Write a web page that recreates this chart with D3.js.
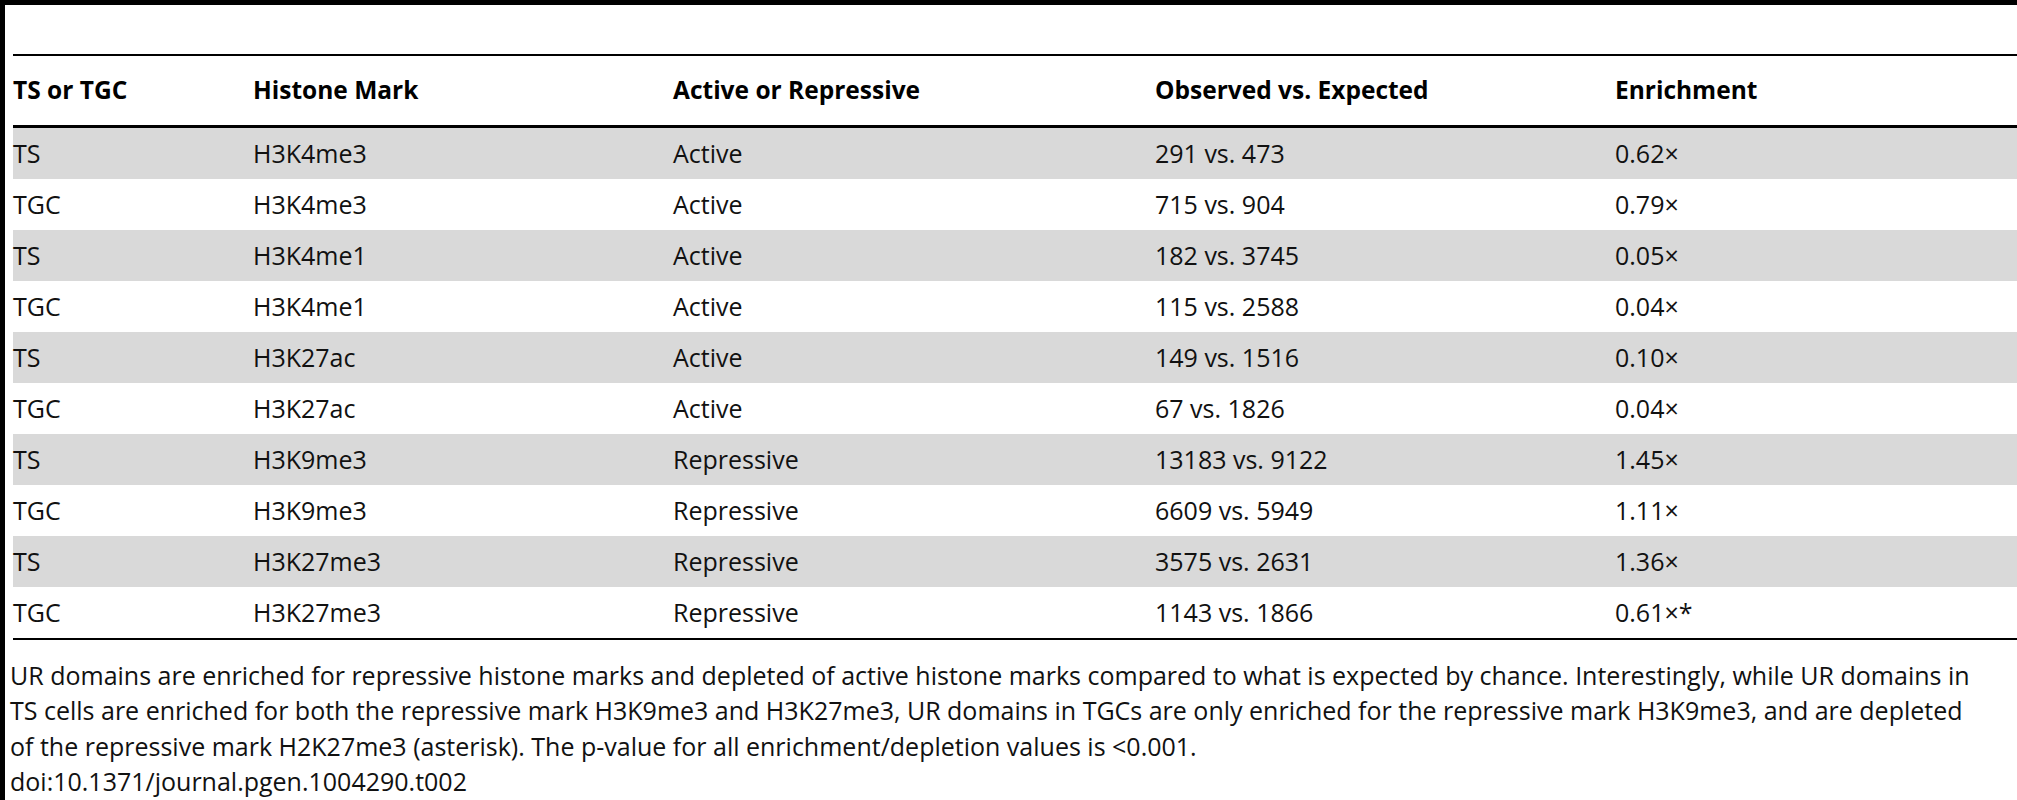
<!DOCTYPE html>
<html><head><meta charset="utf-8">
<script src="https://cdn.jsdelivr.net/npm/d3@7"></script>
<style>body{margin:0;background:#fff}svg{display:block}</style>
</head><body>
<svg id="c" width="2017" height="800"></svg>
<script>
const headers = ["TS or TGC", "Histone Mark", "Active or Repressive", "Observed vs. Expected", "Enrichment"];
const cellType = ["TS", "TGC", "TS", "TGC", "TS", "TGC", "TS", "TGC", "TS", "TGC"];
const marks = ["H3K4me3", "H3K4me3", "H3K4me1", "H3K4me1", "H3K27ac", "H3K27ac", "H3K9me3", "H3K9me3", "H3K27me3", "H3K27me3"];
const activity = ["Active", "Active", "Active", "Active", "Active", "Active", "Repressive", "Repressive", "Repressive", "Repressive"];
const observed = ["291 vs. 473", "715 vs. 904", "182 vs. 3745", "115 vs. 2588", "149 vs. 1516", "67 vs. 1826", "13183 vs. 9122", "6609 vs. 5949", "3575 vs. 2631", "1143 vs. 1866"];
const enrichment = ["0.62\u00d7", "0.79\u00d7", "0.05\u00d7", "0.04\u00d7", "0.10\u00d7", "0.04\u00d7", "1.45\u00d7", "1.11\u00d7", "1.36\u00d7", "0.61\u00d7*"];
const footnote = [
  "UR domains are enriched for repressive histone marks and depleted of active histone marks compared to what is expected by chance. Interestingly, while UR domains in",
  "TS cells are enriched for both the repressive mark H3K9me3 and H3K27me3, UR domains in TGCs are only enriched for the repressive mark H3K9me3, and are depleted",
  "of the repressive mark H2K27me3 (asterisk). The p-value for all enrichment/depletion values is \u003c0.001.",
  "doi:10.1371/journal.pgen.1004290.t002"
];

const svg = d3.select("#c");
const font = "'Open Sans', 'Noto Sans', sans-serif";
const colX = [13, 253, 673, 1155, 1615];
const rows = d3.range(cellType.length);
const y = d3.scaleBand().domain(rows).range([128, 638]);

// frame
svg.append("rect").attr("x", 0).attr("y", 0).attr("width", 5).attr("height", 800).attr("fill", "#000");
svg.append("rect").attr("x", 0).attr("y", 0).attr("width", 2017).attr("height", 5).attr("fill", "#000");
svg.append("rect").attr("x", 13).attr("y", 54).attr("width", 2004).attr("height", 2).attr("fill", "#000");

// header
svg.selectAll("text.h").data(headers).join("text")
  .attr("x", (d, i) => colX[i]).attr("y", 99)
  .attr("font-family", font).attr("font-size", 24.5).attr("font-weight", "bold")
  .text(d => d);
svg.append("rect").attr("x", 13).attr("y", 125).attr("width", 2004).attr("height", 3).attr("fill", "#000");

// body
const g = svg.append("g");
g.selectAll("rect").data(rows.filter(i => i % 2 === 0)).join("rect")
  .attr("x", 13).attr("y", i => y(i)).attr("width", 2004).attr("height", y.bandwidth())
  .attr("fill", "#d9d9d9");
const cols = [cellType, marks, activity, observed, enrichment];
cols.forEach((col, c) => {
  g.selectAll(null).data(col).join("text")
    .attr("x", colX[c]).attr("y", (d, i) => y(i) + y.bandwidth() / 2 + 9)
    .attr("font-family", font).attr("font-size", 25).attr("fill", "#111")
    .text(d => d);
});
svg.append("rect").attr("x", 13).attr("y", 638).attr("width", 2004).attr("height", 2).attr("fill", "#000");

// footnote
svg.selectAll("text.f").data(footnote).join("text")
  .attr("x", 10).attr("y", (d, i) => 685 + i * 35.4)
  .attr("font-family", font).attr("font-size", 25).attr("fill", "#111")
  .text(d => d);
</script>
</body></html>
